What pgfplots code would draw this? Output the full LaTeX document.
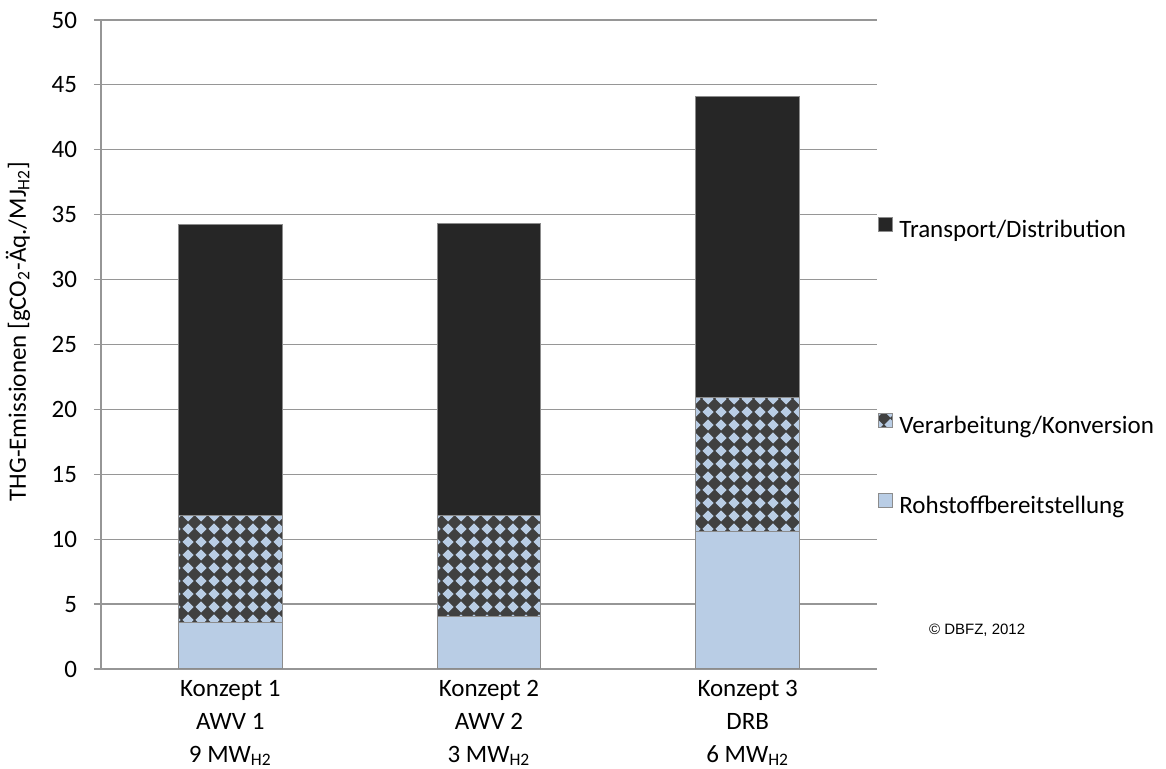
\documentclass[border=0pt]{standalone}
\usepackage{pgfplots}
\pgfplotsset{compat=1.18}
\usepackage{fontspec}
\setmainfont{Carlito}
\newfontfamily\arialfont{Liberation Sans}
\usetikzlibrary{patterns}
\definecolor{transp}{RGB}{38,38,38}
\definecolor{rohst}{RGB}{185,205,229}
\definecolor{patdark}{RGB}{64,64,64}
\definecolor{edge}{RGB}{140,140,140}
\definecolor{gridc}{RGB}{150,150,150}
\pgfdeclarepatternformonly{mydiamonds}{\pgfpointorigin}{\pgfpoint{6.5pt}{6.5pt}}{\pgfpoint{6.5pt}{6.5pt}}{%
  \pgfpathmoveto{\pgfpoint{3.25pt}{0.25pt}}%
  \pgfpathlineto{\pgfpoint{6.25pt}{3.25pt}}%
  \pgfpathlineto{\pgfpoint{3.25pt}{6.25pt}}%
  \pgfpathlineto{\pgfpoint{0.25pt}{3.25pt}}%
  \pgfpathclose\pgfusepath{fill}}
\begin{document}
\begin{tikzpicture}
\useasboundingbox (-50.5pt,-50pt) rectangle (532.5pt,334.5pt);
\begin{axis}[
  at={(0,0)}, anchor=south west,
  scale only axis, width=388pt, height=324.5pt,
  ybar stacked, bar width=0.4,
  xmin=-0.5, xmax=2.5, ymin=0, ymax=50,
  enlargelimits=false,
  axis lines=left, axis line style={-, draw=gridc, line width=0.6pt},
  ymajorgrids, grid style={draw=gridc, line width=0.6pt},
  ytick={0,5,...,50},
  xtick={0,1,2},
  xticklabels={{Konzept 1\\AWV 1\\9 MW\textsubscript{H2}},{Konzept 2\\AWV 2\\3 MW\textsubscript{H2}},{Konzept 3\\DRB\\6 MW\textsubscript{H2}}},
  xtick style={draw=none},
  ytick style={draw=gridc, line width=0.6pt},
  tick align=outside, major tick length=3.5pt,
  /pgf/number format/assume math mode=true,
  tick label style={font=\fontsize{12.5}{16.5}\selectfont},
  xticklabel style={align=center, yshift=1.5pt},
  yticklabel style={xshift=-5pt},
  ylabel={THG-Emissionen [gCO\textsubscript{2}-Äq./MJ\textsubscript{H2}]},
  ylabel style={at={(axis description cs:-0.107,0.52)}, anchor=center, font=\fontsize{12.5}{15}\selectfont},
  clip=false,
  legend cell align=left,
  legend style={draw=none, fill=none, inner sep=0pt, at={(1,0.6965)}, anchor=north west, xshift=0.5pt,
    row sep=7.3pt, column sep=3pt, font=\fontsize{12.5}{15}\selectfont,
    nodes={inner sep=0pt, text height=9pt, text depth=3pt}},
]
\addplot[forget plot, fill=rohst, draw=edge, line width=0.5pt] coordinates {(0,3.57) (1,4.08) (2,10.6)};
\addplot[forget plot, fill=patdark, draw=edge, line width=0.5pt, postaction={pattern=mydiamonds, pattern color=rohst}] coordinates {(0,8.22) (1,7.75) (2,10.33)};
\addplot[forget plot, fill=transp, draw=edge, line width=0.5pt] coordinates {(0,22.49) (1,22.53) (2,23.14)};
\addlegendimage{legend image code/.code={\draw[fill=transp, draw=edge, line width=0.5pt] (0pt,0pt) rectangle (7pt,7pt);}}
\addlegendentry{Transport/Distribution}
\addlegendimage{empty legend}\addlegendentry{}
\addlegendimage{empty legend}\addlegendentry{}
\addlegendimage{empty legend}\addlegendentry{}
\addlegendimage{empty legend}\addlegendentry{}
\addlegendimage{legend image code/.code={\draw[fill=patdark, draw=edge, line width=0.5pt, postaction={pattern=mydiamonds, pattern color=rohst}] (0pt,0pt) rectangle (7pt,7pt);}}
\addlegendentry{Verarbeitung/Konversion}
\addlegendimage{empty legend}\addlegendentry{}
\addlegendimage{legend image code/.code={\draw[fill=rohst, draw=edge, line width=0.5pt] (0pt,0pt) rectangle (7pt,7pt);}}
\addlegendentry{Rohstoffbereitstellung}
\node[anchor=west, font=\arialfont\fontsize{7.5}{9}\selectfont] at (rel axis cs:1.058,0.060) {© DBFZ, 2012};
\end{axis}
\end{tikzpicture}
\end{document}
